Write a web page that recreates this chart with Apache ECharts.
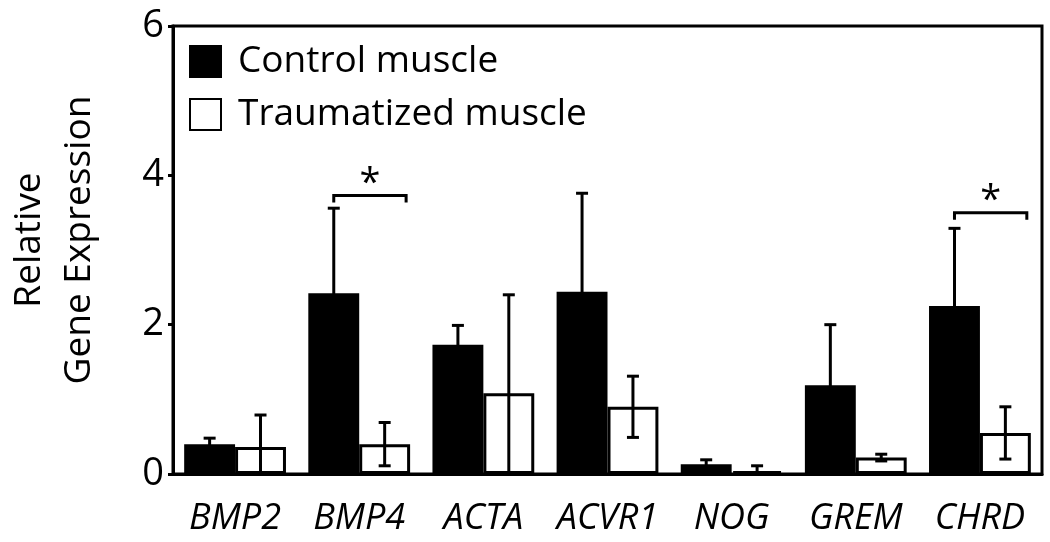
<!DOCTYPE html>
<html>
<head>
<meta charset="utf-8">
<script src="https://cdn.jsdelivr.net/npm/echarts@6/dist/echarts.min.js"></script>
<style>
  html, body { margin: 0; padding: 0; background: #fff; }
</style>
</head>
<body>
<div id="geneChart" style="width: 1050px; height: 542px"></div>
<script>
// categories and values
const genes = ["BMP2", "BMP4", "ACTA", "ACVR1", "NOG", "GREM", "CHRD"];
const controlMean = [0.40, 2.42, 1.73, 2.44, 0.13, 1.19, 2.25];
const controlErr = [0.08, 1.14, 0.26, 1.32, 0.06, 0.81, 1.04];
const traumaMean = [0.36, 0.40, 1.08, 0.90, 0.04, 0.22, 0.55];
const traumaErr = [0.43, 0.29, 1.32, 0.41, 0.07, 0.045, 0.35];
// significance brackets: [category index, bracket height]
const sigMarks = [[1, 3.73], [6, 3.50]];
const yTicks = [0, 2, 4, 6];

const FONT = "Open Sans";
const GAP = 0.18; // barCategoryGap as fraction

function barWidth(api) {
  const band = api.size([1, 0])[0];
  return band * (1 - GAP) / 2;
}

// error bars drawn on top of bars
function errorRender(side) {
  return function (params, api) {
    const idx = api.value(0);
    const mean = api.value(1);
    const err = api.value(2);
    const bw = barWidth(api);
    const cx = api.coord([idx, 0])[0] + side * bw / 2;
    const yTop = api.coord([idx, mean + err])[1];
    const low = mean - err;
    const yBot = api.coord([idx, Math.max(0, low)])[1];
    const cap = 6;
    const style = { stroke: "#000", lineWidth: 3 };
    const children = [
      { type: "line", shape: { x1: cx, y1: yTop, x2: cx, y2: yBot }, style: style },
      { type: "line", shape: { x1: cx - cap, y1: yTop, x2: cx + cap, y2: yTop }, style: style },
    ];
    if (low > 0) {
      children.push({ type: "line", shape: { x1: cx - cap, y1: yBot, x2: cx + cap, y2: yBot }, style: style });
    }
    return { type: "group", children: children };
  };
}

function sigRender(params, api) {
  const idx = api.value(0);
  const bw = barWidth(api);
  const c = api.coord([idx, api.value(1)]);
  const x1 = c[0] - bw / 2;
  const x2 = c[0] + bw - 4;
  const y = c[1];
  const style = { stroke: "#000", lineWidth: 3, fill: null };
  return {
    type: "group",
    children: [
      { type: "polyline", shape: { points: [[x1, y + 7], [x1, y], [x2, y], [x2, y + 7]] }, style: style },
      {
        type: "text",
        style: {
          text: "*", x: (x1 + x2) / 2, y: y + 8,
          fill: "#000", font: "38px " + FONT, align: "center", verticalAlign: "bottom",
        },
      },
    ],
  };
}

const chart = echarts.init(document.getElementById("geneChart"));
const option = {
  animation: false,
  grid: {
    left: 173, right: 8, top: 26, bottom: 68,
    outerBoundsMode: "none",
    show: true, borderColor: "#000", borderWidth: 3,
  },
  legend: {
    data: ["Control muscle", "Traumatized muscle"],
    orient: "vertical",
    left: 189, top: 43,
    padding: 0,
    itemWidth: 31, itemHeight: 31,
    itemGap: 16,
    icon: "rect",
    textStyle: { fontSize: 37, fontFamily: FONT, color: "#000", padding: [0, 0, 0, 12] },
  },
  xAxis: {
    type: "category",
    data: genes,
    axisLine: { lineStyle: { color: "#000", width: 3 } },
    axisTick: { length: 7, lineStyle: { color: "#000", width: 3 } },
    axisLabel: {
      interval: 0,
      fontSize: 36, fontStyle: "italic", fontFamily: FONT, color: "#000", margin: 27,
    },
  },
  yAxis: {
    type: "value",
    min: yTicks[0], max: yTicks[yTicks.length - 1], interval: 2,
    name: "Relative\nGene Expression",
    nameLocation: "middle",
    nameGap: 69,
    nameTextStyle: {
      fontSize: 37, fontFamily: FONT, color: "#000", lineHeight: 50, align: "center",
      padding: [0, 0, 0, 20],
    },
    axisLine: { show: true, lineStyle: { color: "#000", width: 3 } },
    axisTick: { show: true, length: 5, lineStyle: { color: "#000", width: 3 } },
    splitLine: { show: false },
    axisLabel: { fontSize: 38, fontFamily: FONT, color: "#000", margin: 9 },
  },
  series: [
    {
      name: "Control muscle",
      type: "bar",
      data: controlMean,
      barGap: "0%",
      barCategoryGap: GAP * 100 + "%",
      itemStyle: { color: "#000", borderColor: "#000", borderWidth: 3 },
    },
    {
      name: "Traumatized muscle",
      type: "bar",
      data: traumaMean,
      itemStyle: { color: "#fff", borderColor: "#000", borderWidth: 3 },
    },
    {
      type: "custom",
      renderItem: errorRender(-1),
      data: genes.map((g, i) => [i, controlMean[i], controlErr[i]]),
      encode: { x: 0, y: 1 },
      z: 5,
      clip: false,
    },
    {
      type: "custom",
      renderItem: errorRender(1),
      data: genes.map((g, i) => [i, traumaMean[i], traumaErr[i]]),
      encode: { x: 0, y: 1 },
      z: 5,
      clip: false,
    },
    {
      type: "custom",
      renderItem: sigRender,
      data: sigMarks,
      encode: { x: 0, y: 1 },
      z: 5,
      clip: false,
    },
  ],
};
chart.setOption(option);
</script>
</body>
</html>
